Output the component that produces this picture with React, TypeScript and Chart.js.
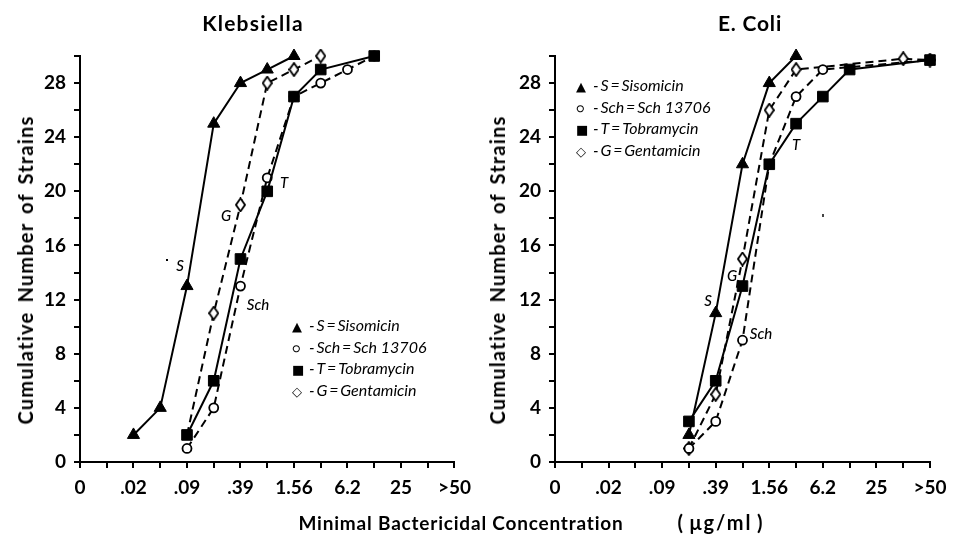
import React, { useEffect, useRef } from 'react';
import { Chart, registerables } from 'chart.js';

Chart.register(...registerables);

// ---- Data ----
// x positions are dilution steps on the axis: 0, .02, .09, .39, 1.56, 6.2, 25, >50 at 0..7, half-steps in between
const xTickLabels = ['0', '.02', '.09', '.39', '1.56', '6.2', '25', '>50'];
const yTickLabels = [0, 4, 8, 12, 16, 20, 24, 28];

// Klebsiella
const klebS_x = [1, 1.5, 2, 2.5, 3, 3.5, 4];
const klebS_y = [2, 4, 13, 25, 28, 29, 30];
const klebSch_x = [2, 2.5, 3, 3.5, 4, 4.5, 5, 5.5];
const klebSch_y = [1, 4, 13, 21, 27, 28, 29, 30];
const klebT_x = [2, 2.5, 3, 3.5, 4, 4.5, 5.5];
const klebT_y = [2, 6, 15, 20, 27, 29, 30];
const klebG_x = [2, 2.5, 3, 3.5, 4, 4.5];
const klebG_y = [2, 11, 19, 28, 29, 30];

// E. Coli
const coliS_x = [2.5, 3, 3.5, 4, 4.5];
const coliS_y = [2, 11, 22, 28, 30];
const coliSch_x = [2.5, 3, 3.5, 4, 4.5, 5, 7];
const coliSch_y = [1, 3, 9, 22, 27, 29, 29.7];
const coliT_x = [2.5, 3, 3.5, 4, 4.5, 5, 5.5, 7];
const coliT_y = [3, 6, 13, 22, 25, 27, 29, 29.7];
const coliG_x = [2.5, 3, 3.5, 4, 4.5, 6.5, 7];
const coliG_y = [1, 5, 15, 26, 29, 29.8, 29.7];

const FONT = 'Lato, "DejaVu Sans", sans-serif';

function zip(xs: number[], ys: number[]) {
  return xs.map((x, i) => ({ x, y: ys[i] }));
}

let diamondCanvas: HTMLCanvasElement | null = null;
function getDiamond() {
  if (diamondCanvas) return diamondCanvas;
  const c = document.createElement('canvas');
  c.width = 11;
  c.height = 15;
  const ctx = c.getContext('2d')!;
  ctx.beginPath();
  ctx.moveTo(5.5, 1);
  ctx.lineTo(10, 7.5);
  ctx.lineTo(5.5, 14);
  ctx.lineTo(1, 7.5);
  ctx.closePath();
  ctx.fillStyle = '#fff';
  ctx.fill();
  ctx.lineWidth = 1.8;
  ctx.strokeStyle = '#000';
  ctx.stroke();
  diamondCanvas = c;
  return c;
}

function makeDatasets(
  s: { x: number; y: number }[],
  sch: { x: number; y: number }[],
  t: { x: number; y: number }[],
  g: { x: number; y: number }[],
  gHideFirst: boolean
) {
  const base = { borderColor: '#000', borderWidth: 2, tension: 0, pointBorderColor: '#000', clip: false };
  // first dataset is drawn on top
  return [
    {
      ...base,
      label: 'S',
      data: s,
      pointStyle: 'triangle',
      pointRadius: 7,
      pointBorderWidth: 1,
      pointBackgroundColor: '#000',
    },
    {
      ...base,
      label: 'T',
      data: t,
      pointStyle: 'rect',
      pointRadius: 7.5,
      pointBorderWidth: 1,
      pointBackgroundColor: '#000',
    },
    {
      ...base,
      label: 'Sch',
      data: sch,
      borderDash: [8, 5],
      pointStyle: 'circle',
      pointRadius: 4.5,
      pointBorderWidth: 1.8,
      pointBackgroundColor: '#fff',
    },
    {
      ...base,
      label: 'G',
      data: g,
      borderDash: [8, 5],
      pointStyle: getDiamond(),
      pointRadius: g.map((_, i) => (gHideFirst && i === 0 ? 0 : 6)),
    },
  ];
}

function makeOptions(yWidth: number, rightPad: number): any {
  return {
    responsive: false,
    animation: false,
    layout: { padding: { top: 56, left: 0, right: rightPad, bottom: 0 } },
    plugins: { legend: { display: false }, tooltip: { enabled: false }, title: { display: false } },
    scales: {
      x: {
        type: 'linear',
        min: 0,
        max: 7,
        afterFit: (s: any) => {
          s.height = 75;
        },
        ticks: {
          stepSize: 0.5,
          autoSkip: false,
          maxRotation: 0,
          padding: 8,
          color: '#000',
          font: { family: FONT, size: 19, weight: 'bold' },
          callback: (v: number) => (Number.isInteger(v) ? xTickLabels[v] : ''),
        },
        grid: { drawOnChartArea: false, drawTicks: true, tickLength: 6, color: '#000', lineWidth: 2 },
        border: { color: '#000', width: 2 },
      },
      y: {
        type: 'linear',
        min: 0,
        max: 30,
        afterFit: (s: any) => {
          s.width = yWidth;
        },
        ticks: {
          stepSize: 2,
          autoSkip: false,
          padding: 8,
          color: '#000',
          font: { family: FONT, size: 19, weight: 'bold' },
          callback: (v: number) => (yTickLabels.includes(v) ? String(v) : ''),
        },
        grid: { drawOnChartArea: false, drawTicks: true, tickLength: 6, color: '#000', lineWidth: 2 },
        border: { color: '#000', width: 2 },
      },
    },
  };
}

function Panel(props: {
  left: number;
  yWidth: number;
  rightPad: number;
  datasets: () => any[];
}) {
  const ref = useRef<HTMLCanvasElement>(null);
  useEffect(() => {
    const chart = new Chart(ref.current!, {
      type: 'line',
      data: { datasets: props.datasets() },
      options: makeOptions(props.yWidth, props.rightPad),
    });
    return () => chart.destroy();
  }, []);
  return (
    <canvas
      ref={ref}
      width={479}
      height={537}
      style={{ position: 'absolute', left: props.left, top: 0, width: 479, height: 537 }}
    />
  );
}

function Txt(props: { x: number; y: number; children: any; style?: any }) {
  return (
    <div
      style={{
        position: 'absolute',
        left: props.x,
        top: props.y,
        transform: 'translate(-50%, -50%)',
        whiteSpace: 'pre',
        fontFamily: FONT,
        color: '#000',
        lineHeight: 1,
        ...props.style,
      }}
    >
      {props.children}
    </div>
  );
}

const italic = { fontStyle: 'italic', fontSize: 15, fontWeight: 500 };

const TS = '\u2009';
function Legend(props: { left: number; top: number }) {
  const rows = [
    ['\u25B2', `-${TS}S${TS}=${TS}Sisomicin`],
    ['\u25CB', `-${TS}Sch${TS}=${TS}Sch 13706`],
    ['\u25A0', `-${TS}T${TS}=${TS}Tobramycin`],
    ['\u25C7', `-${TS}G${TS}=${TS}Gentamicin`],
  ];
  return (
    <div
      style={{
        position: 'absolute',
        left: props.left,
        top: props.top,
        fontFamily: FONT,
        fontSize: 16,
        lineHeight: '20.5px',
        whiteSpace: 'pre',
      }}
    >
      {rows.map((r, i) => (
        <div key={i}>
          <span style={{ fontStyle: 'normal', fontSize: 13, display: 'inline-block', width: 17 }}>{r[0]}</span>
          <span style={{ fontStyle: 'italic' }}>{r[1]}</span>
        </div>
      ))}
    </div>
  );
}

export default function App() {
  const yTitle = {
    fontSize: 20,
    fontWeight: 'bold',
    letterSpacing: '1.2px',
    wordSpacing: '3px',
    transform: 'translate(-50%, -50%) rotate(-90deg)',
  };
  const xTitle = { fontSize: 19, fontWeight: 'bold', letterSpacing: '0.8px' };
  return (
    <div
      style={{
        position: 'fixed',
        left: 0,
        top: 0,
        width: 958,
        height: 537,
        background: '#fff',
        overflow: 'hidden',
      }}
    >
      <Panel
        left={0}
        yWidth={80}
        rightPad={23}
        datasets={() =>
          makeDatasets(zip(klebS_x, klebS_y), zip(klebSch_x, klebSch_y), zip(klebT_x, klebT_y), zip(klebG_x, klebG_y), true)
        }
      />
      <Panel
        left={479}
        yWidth={76}
        rightPad={28}
        datasets={() =>
          makeDatasets(zip(coliS_x, coliS_y), zip(coliSch_x, coliSch_y), zip(coliT_x, coliT_y), zip(coliG_x, coliG_y), false)
        }
      />

      <Txt x={253} y={22} style={{ fontSize: 21, fontWeight: 'bold', letterSpacing: '1.2px' }}>Klebsiella</Txt>
      <Txt x={750} y={22} style={{ fontSize: 21, fontWeight: 'bold', letterSpacing: '0.8px' }}>E. Coli</Txt>

      <Txt x={25} y={270} style={yTitle}>Cumulative Number of Strains</Txt>
      <Txt x={497} y={270} style={yTitle}>Cumulative Number of Strains</Txt>
      <Txt x={461} y={522} style={xTitle}>Minimal Bactericidal Concentration</Txt>
      <Txt x={721} y={522} style={{ ...xTitle, fontSize: 20, letterSpacing: '2px' }}>{'(\u2009\u03BCg/ml\u2009)'}</Txt>

      {/* curve annotations */}
      <Txt x={180} y={265} style={italic}>S</Txt>
      <Txt x={226} y={215} style={italic}>G</Txt>
      <Txt x={284} y={182} style={italic}>T</Txt>
      <Txt x={258} y={304} style={italic}>Sch</Txt>
      <Txt x={708} y={300} style={italic}>S</Txt>
      <Txt x={732} y={275} style={italic}>G</Txt>
      <Txt x={796} y={144} style={italic}>T</Txt>
      <Txt x={761} y={333} style={italic}>Sch</Txt>
      <div style={{ position: 'absolute', left: 166, top: 259, width: 2, height: 2, background: '#000' }} />
      <div style={{ position: 'absolute', left: 822, top: 214, width: 2, height: 3, background: '#444' }} />

      <Legend left={292} top={315} />
      <Legend left={576} top={75} />
    </div>
  );
}
